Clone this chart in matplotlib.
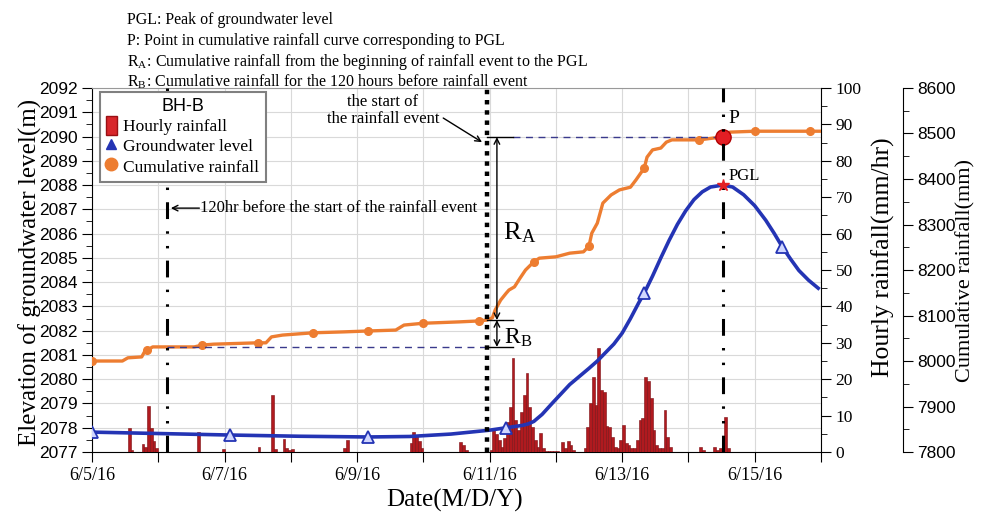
import numpy as np
import matplotlib.pyplot as plt
from matplotlib.lines import Line2D
from matplotlib.patches import Patch
from matplotlib.ticker import MultipleLocator

plt.rcParams['font.family'] = ['Liberation Serif', 'DejaVu Serif']
plt.rcParams['mathtext.fontset'] = 'stix'

# x axis: days after 6/5/16 00:00
day_labels = ['6/5/16', '', '6/7/16', '', '6/9/16', '', '6/11/16', '',
              '6/13/16', '', '6/15/16', '']

# hourly rainfall (hour after 6/5 00:00, mm/hr)
rain_hours = [13, 14, 18, 19, 20, 21, 22, 23, 38, 47, 60, 65, 66, 69, 70, 71, 72,
              91, 92, 115, 116, 117, 118, 119, 133, 134, 135,
              144, 145, 146, 147, 148, 149, 150, 151, 152, 153, 154, 155, 156, 157,
              158, 159, 160, 161, 162, 163, 164, 165, 166, 167, 168,
              170, 171, 172, 173, 174,
              178, 179, 180, 181, 182, 183, 184, 185, 186, 187, 188, 189, 190,
              191, 192, 193, 194, 195, 196, 197, 198, 199, 200, 201, 202, 203,
              204, 205, 206, 207, 208, 209,
              220, 221, 225, 226, 227, 228, 229, 230]
rain_mm = [6.7, 0.5, 2.2, 1.5, 12.7, 6.5, 3.0, 1.0, 5.6, 0.8, 1.3, 15.6, 0.8, 3.5, 1.0, 0.5, 0.8,
           1.0, 3.2, 2.5, 5.5, 4.5, 3.0, 1.0, 2.8, 1.8, 0.5,
           0.5, 6.0, 4.9, 3.3, 1.5, 3.8, 8.3, 12.5, 25.8, 8.8, 6.0, 11.1, 15.7, 21.7,
           12.5, 7.0, 3.3, 1.5, 5.3, 1.0, 0.3, 0.3, 0.3, 0.3, 0.3,
           2.8, 1.0, 3.0, 1.9, 0.5,
           1.0, 7.0, 13.4, 20.7, 13.0, 28.5, 17.0, 16.6, 7.2, 7.0, 4.2, 1.5, 1.0,
           3.3, 7.4, 2.4, 1.9, 1.0, 1.0, 3.3, 8.8, 9.3, 20.7, 19.4, 14.8, 6.0,
           1.9, 1.0, 1.0, 11.6, 4.2, 1.5,
           1.5, 0.5, 1.3, 0.5, 1.0, 1.9, 9.5, 1.0]

# groundwater level (m)
gw_hours = [0, 25, 50, 75, 100, 115, 130, 144, 150, 156,
            158, 160, 163, 167, 173, 180, 183, 186, 189, 192,
            195, 198, 200, 203, 206, 209, 212, 215, 218, 221,
            224, 228.5, 232, 236, 240, 244, 247, 250, 253, 256,
            259.5, 263]
gw_level = [2077.82, 2077.76, 2077.70, 2077.65, 2077.62, 2077.64, 2077.74, 2077.90, 2078.00, 2078.10,
            2078.16, 2078.26, 2078.55, 2079.05, 2079.78, 2080.45, 2080.75, 2081.10, 2081.45, 2081.90,
            2082.50, 2083.15, 2083.55, 2084.25, 2085.00, 2085.72, 2086.38, 2086.94, 2087.40, 2087.72,
            2087.92, 2088.00, 2087.92, 2087.60, 2087.15, 2086.55, 2086.02, 2085.45, 2084.95, 2084.48,
            2084.08, 2083.75]

# cumulative rainfall (mm)
cum_hours = [0, 11, 13, 18, 19, 20, 22, 37, 40, 44,
             60, 63, 65, 69, 80, 91, 100, 110, 113, 120,
             133, 140, 143, 145, 146, 148, 150, 151, 153, 155,
             157, 160, 162, 168, 173, 178, 180, 181, 183, 185,
             188, 191, 195, 197, 200, 201, 203, 206, 208, 210,
             220, 225, 228.5, 231, 240, 260, 263.5]
cum_mm = [8000, 8000, 8007, 8009, 8020, 8024, 8031, 8031, 8035, 8037,
          8040, 8040, 8053, 8057, 8062, 8064, 8066, 8068, 8079, 8083,
          8086, 8088, 8090, 8095, 8112, 8134, 8149, 8156, 8163, 8182,
          8200, 8218, 8226, 8229, 8237, 8240, 8253, 8281, 8303, 8347,
          8365, 8376, 8382, 8398, 8424, 8448, 8464, 8468, 8481, 8486,
          8486, 8490, 8492, 8503, 8505, 8505, 8505]

event_start_h = 143   # start of the rainfall event
before_h = 27         # "120hr before" line
peak_h = 228.5        # PGL
cum_before = 8031
cum_start = 8090
cum_peak = 8492
gw_peak = 2088.0

orange = '#ED7D31'
blue = '#2434B4'

fig = plt.figure(figsize=(9.87, 5.21), dpi=100)
ax = fig.add_axes([0.0932, 0.1324, 0.7386, 0.6987])
ax_r = ax.twinx()
ax_c = ax.twinx()
ax_g = ax.twinx()
ax.set_zorder(0)
ax_r.set_zorder(1)
ax_c.set_zorder(2)
ax_g.set_zorder(3)

# main (groundwater) axis
ax.set_xlim(0, 11)
ax.set_ylim(2077, 2092)
ax.set_xticks(range(12))
ax.set_xticklabels(day_labels)
ax.yaxis.set_major_locator(MultipleLocator(1))
ax.yaxis.set_minor_locator(MultipleLocator(0.5))
ax.grid(True, color='#d9d9d9', lw=0.8)
ax.set_axisbelow(True)
ax.tick_params(axis='y', which='major', length=7, labelsize=12.5, labelfontfamily='Liberation Sans')
ax.tick_params(axis='y', which='minor', length=4)
ax.tick_params(axis='x', length=7, labelsize=13)
ax.spines['top'].set_color('#999999')
ax.spines['right'].set_visible(False)

# hourly rainfall axis
ax_r.bar(np.array(rain_hours) / 24, rain_mm, width=1 / 24, align='edge',
         color='#B01A1F', edgecolor='#7a0e12', lw=0.4)
ax_r.set_ylim(0, 100)
ax_r.yaxis.set_major_locator(MultipleLocator(10))
ax_r.yaxis.set_minor_locator(MultipleLocator(5))
ax_r.tick_params(axis='y', which='major', length=7, labelsize=12.5)
ax_r.tick_params(axis='y', which='minor', length=4)
for s in ['top', 'left', 'bottom']:
    ax_r.spines[s].set_visible(False)

# cumulative rainfall axis
ch = np.array(cum_hours)
cum_marks = [i for i, h in enumerate(cum_hours) if h % 20 == 0]
ax_c.plot(ch / 24, cum_mm, color=orange, lw=2.4, marker='o', ms=5.5,
          markevery=cum_marks)
ax_c.set_ylim(7800, 8600)
ax_c.spines['right'].set_position(('axes', 1.1125))
ax_c.yaxis.set_major_locator(MultipleLocator(100))
ax_c.yaxis.set_minor_locator(MultipleLocator(50))
ax_c.tick_params(axis='y', which='major', length=7, labelsize=12.5, labelfontfamily='Liberation Sans')
ax_c.tick_params(axis='y', which='minor', length=4)
for s in ['top', 'left', 'bottom']:
    ax_c.spines[s].set_visible(False)

# reference lines in cumulative units
ax_c.plot([before_h / 24, event_start_h / 24], [cum_before, cum_before],
          color='#3a3a8c', ls=(0, (5, 4)), lw=1)
ax_c.plot([6.35, peak_h / 24], [cum_peak, cum_peak],
          color='#3a3a8c', ls=(0, (5, 4)), lw=1)
for v in [cum_before, cum_start, cum_peak]:
    ax_c.plot([event_start_h / 24, 6.35], [v, v], color='k', lw=1)
ax_c.annotate('', xy=(6.11, cum_peak), xytext=(6.11, cum_start),
              arrowprops=dict(arrowstyle='<->', lw=1, color='k', shrinkA=0, shrinkB=0))
ax_c.annotate('', xy=(6.11, cum_before), xytext=(6.11, cum_start),
              arrowprops=dict(arrowstyle='<->', lw=1, color='k', shrinkA=0, shrinkB=0))
ax_c.text(6.2, 8283, r'R$_\mathregular{A}$', fontsize=19, va='center', ha='left')
ax_c.text(6.22, 8051, r'R$_\mathregular{B}$', fontsize=17, va='center', ha='left')
ax_c.plot([peak_h / 24], [cum_peak], marker='o', ms=11, color='#E31E24', mec='#B00000')
ax_c.text(9.6, 8534, 'P', fontsize=14, ha='left', va='center')

ax_c.text(4.39, 8550, 'the start of\nthe rainfall event', fontsize=12,
          ha='center', va='center', linespacing=1.05)
ax_c.annotate('', xy=(5.885, 8481), xytext=(5.30, 8534),
              arrowprops=dict(arrowstyle='->', lw=1, color='k', shrinkA=0, shrinkB=0))
ax_c.text(1.63, 8336, '120hr before the start of the rainfall event', fontsize=12,
          ha='left', va='center')
ax_c.annotate('', xy=(1.19, 8336), xytext=(1.62, 8336),
              arrowprops=dict(arrowstyle='->', lw=1, color='k', shrinkA=0, shrinkB=0))

# groundwater overlay
ax_g.set_ylim(2077, 2092)
ax_g.set_axis_off()
gw_marks = [i for i, h in enumerate(gw_hours) if h % 50 == 0]
ax_g.plot(np.array(gw_hours) / 24, gw_level, color=blue, lw=2.6, marker='^', ms=8,
          mfc='#d0d6ff', mec=blue, mew=1.3, markevery=gw_marks)
ax_g.axvline(event_start_h / 24, color='k', ls=(0, (1, 1.3)), lw=3.2)
dashdotdot = (0, (5.5, 4, 0.8, 4, 0.8, 4))
ax_g.axvline(before_h / 24, color='k', ls=dashdotdot, lw=2.2)
ax_g.axvline(peak_h / 24, color='k', ls=dashdotdot, lw=2.2)
ax_g.plot([peak_h / 24], [gw_peak], marker='*', ms=9, color='#E31E24')
ax_g.text(9.6, 2088.37, 'PGL', fontsize=12, ha='left', va='center')

handles = [Patch(facecolor='#D8262B', edgecolor='#9a1014'),
           Line2D([], [], ls='none', marker='^', ms=7, color=blue),
           Line2D([], [], ls='none', marker='o', ms=9, color=orange)]
leg = ax_g.legend(handles, ['Hourly rainfall', 'Groundwater level', 'Cumulative rainfall'],
                  title='BH-B', loc='upper left', bbox_to_anchor=(0.011, 0.989),
                  fancybox=False, edgecolor='#808080', framealpha=1,
                  prop={'family': 'Liberation Serif', 'size': 12.5},
                  title_fontproperties={'family': 'Liberation Sans', 'size': 13},
                  handlelength=0.6, handleheight=1.3, handletextpad=0.4,
                  labelspacing=0.05, borderpad=0.35, borderaxespad=0)
leg.get_frame().set_linewidth(1.5)

# axis labels
fig.text(30 / 987, 1 - 272 / 521, 'Elevation of groundwater level(m)', fontsize=18,
         rotation=90, ha='center', va='center')
fig.text(455 / 987, 1 - 500 / 521, 'Date(M/D/Y)', fontsize=18, ha='center', va='center')
fig.text(883 / 987, 1 - 257 / 521, 'Hourly rainfall(mm/hr)', fontsize=18.5,
         rotation=90, ha='center', va='center')
fig.text(966 / 987, 1 - 270 / 521, 'Cumulative rainfall(mm)', fontsize=16,
         rotation=90, ha='center', va='center')

# definitions above the chart
notes = ['PGL: Peak of groundwater level',
         'P: Point in cumulative rainfall curve corresponding to PGL',
         r'R$_\mathregular{A}$: Cumulative rainfall from the beginning of rainfall event to the PGL',
         r'R$_\mathregular{B}$: Cumulative rainfall for the 120 hours before rainfall event']
for i, line in enumerate(notes):
    fig.text(127 / 987, 1 - (24 + 21 * i) / 521, line, fontsize=11.5, va='baseline', ha='left')

fig.savefig('out.png', dpi=100)
